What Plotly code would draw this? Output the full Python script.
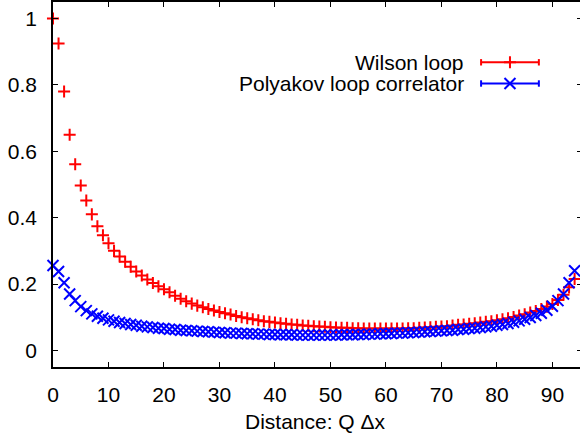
import plotly.graph_objects as go

# ---- data ----
distance = list(range(0, 95))

wilson_loop = [
    1.000, 0.925, 0.780, 0.650, 0.561, 0.497, 0.452, 0.410, 0.374, 0.347,
    0.323, 0.300, 0.283, 0.267, 0.252, 0.238, 0.226, 0.214, 0.203, 0.193,
    0.184, 0.175, 0.165, 0.156, 0.148, 0.141, 0.135, 0.130, 0.125, 0.120,
    0.116, 0.112, 0.108, 0.104, 0.100, 0.097, 0.094, 0.091, 0.088, 0.086,
    0.084, 0.082, 0.080, 0.078, 0.077, 0.075, 0.074, 0.073, 0.072, 0.071,
    0.070, 0.069, 0.068, 0.068, 0.067, 0.067, 0.066, 0.066, 0.066, 0.066,
    0.066, 0.066, 0.066, 0.066, 0.067, 0.067, 0.068, 0.069, 0.070, 0.071,
    0.072, 0.073, 0.075, 0.077, 0.078, 0.080, 0.082, 0.084, 0.086, 0.088,
    0.091, 0.094, 0.097, 0.101, 0.105, 0.109, 0.114, 0.119, 0.125, 0.132,
    0.140, 0.152, 0.168, 0.190, 0.215,
]

polyakov_correlator = [
    0.256, 0.238, 0.204, 0.170, 0.150, 0.132, 0.120, 0.110, 0.103, 0.097,
    0.092, 0.088, 0.084, 0.081, 0.078, 0.076, 0.073, 0.071, 0.069, 0.067,
    0.066, 0.064, 0.063, 0.061, 0.060, 0.059, 0.058, 0.057, 0.056, 0.055,
    0.054, 0.053, 0.052, 0.052, 0.051, 0.050, 0.050, 0.049, 0.049, 0.048,
    0.048, 0.047, 0.047, 0.047, 0.046, 0.046, 0.046, 0.046, 0.046, 0.046,
    0.046, 0.046, 0.047, 0.047, 0.047, 0.048, 0.048, 0.049, 0.049, 0.050,
    0.050, 0.051, 0.052, 0.052, 0.053, 0.054, 0.055, 0.056, 0.057, 0.058,
    0.059, 0.060, 0.061, 0.063, 0.064, 0.066, 0.067, 0.069, 0.071, 0.073,
    0.076, 0.078, 0.081, 0.085, 0.089, 0.094, 0.099, 0.105, 0.112, 0.121,
    0.133, 0.150, 0.170, 0.204, 0.240,
]

series_names = ["Wilson loop", "Polyakov loop correlator"]
series_colors = ["#ff0000", "#0000ff"]
x_ticks = [0, 10, 20, 30, 40, 50, 60, 70, 80, 90]
y_ticks = [0, 0.2, 0.4, 0.6, 0.8, 1]
x_title = "Distance: Q \u0394x"

FONT = "Liberation Sans, Arial, sans-serif"
FS = 21

# The figure is slightly wider than the 580px window so that the right
# border of the frame falls just outside the visible area (as in the reference).
FIG_W, FIG_H = 584, 440
ML, MT, MB = 53, 2, 73
PW = FIG_W - ML
PH = FIG_H - MT - MB


def px_x(p):
    return (p - ML) / PW


def px_y(p):
    return (FIG_H - MB - p) / PH


fig = go.Figure()

fig.add_trace(go.Scatter(
    x=distance, y=wilson_loop, mode="markers", name=series_names[0],
    marker=dict(symbol="cross-thin", size=8.6, color=series_colors[0],
                line=dict(color=series_colors[0], width=2)),
    cliponaxis=False, showlegend=False,
))
fig.add_trace(go.Scatter(
    x=distance, y=polyakov_correlator, mode="markers", name=series_names[1],
    marker=dict(symbol="x-thin", size=11, color=series_colors[1],
                line=dict(color=series_colors[1], width=2)),
    cliponaxis=False, showlegend=False,
))

# ---- gnuplot-style key (text left of sample) ----
key_rows = [px_y(62.3), px_y(83.5)]
key_x0, key_x1, key_xm, key_text = px_x(482.7), px_x(540.7), px_x(511.7), px_x(468)
symbols = ["cross-thin", "x-thin"]
sizes = [8.6, 11]
shapes = []
annotations = []
cap = 3.2 / PH
for i in range(2):
    yk = key_rows[i]
    c = series_colors[i]
    shapes.append(dict(type="line", xref="paper", yref="paper", x0=key_x0, x1=key_x1,
                       y0=yk, y1=yk, line=dict(color=c, width=2)))
    for xe in (key_x0, key_x1):
        shapes.append(dict(type="line", xref="paper", yref="paper", x0=xe, x1=xe,
                           y0=yk - cap, y1=yk + cap, line=dict(color=c, width=2)))
    annotations.append(dict(text=series_names[i], xref="paper", yref="paper",
                            x=key_text, y=yk, xanchor="right", yanchor="middle",
                            showarrow=False, font=dict(family=FONT, size=FS, color="black")))
    fig.add_trace(go.Scatter(
        x=[key_xm], y=[yk], xaxis="x2", yaxis="y2", mode="markers",
        marker=dict(symbol=symbols[i], size=sizes[i], color=c, line=dict(color=c, width=2)),
        showlegend=False, hoverinfo="skip", cliponaxis=False,
    ))

annotations.append(dict(text=x_title, xref="paper", yref="paper", x=px_x(316.5), y=px_y(421),
                        xanchor="center", yanchor="middle", showarrow=False,
                        font=dict(family=FONT, size=FS, color="black")))

axis_common = dict(
    showline=True, linecolor="black", linewidth=1.5, mirror="ticks",
    ticks="inside", ticklen=5, tickwidth=1, tickcolor="black",
    showgrid=False, zeroline=False,
    tickfont=dict(family=FONT, size=FS, color="black"),
)

x_max = (FIG_W - ML) / 5.57  # keeps 10 units ~ 55.7 px as in the reference

fig.update_layout(
    width=FIG_W, height=FIG_H,
    paper_bgcolor="white", plot_bgcolor="white",
    margin=dict(l=ML, r=0, t=MT, b=MB),
    xaxis=dict(range=[0, x_max], tickvals=x_ticks, ticklabelstandoff=8, **axis_common),
    yaxis=dict(range=[-0.05, 1.05], tickvals=y_ticks, ticklabelstandoff=10, **axis_common),
    xaxis2=dict(range=[0, 1], overlaying="x", visible=False, fixedrange=True),
    yaxis2=dict(range=[0, 1], overlaying="y", visible=False, fixedrange=True),
    shapes=shapes, annotations=annotations,
    showlegend=False,
)

fig.write_html(
    "out.html",
    config={"displayModeBar": False},
    post_script="document.body.style.margin='0';document.body.style.overflow='hidden';",
)
